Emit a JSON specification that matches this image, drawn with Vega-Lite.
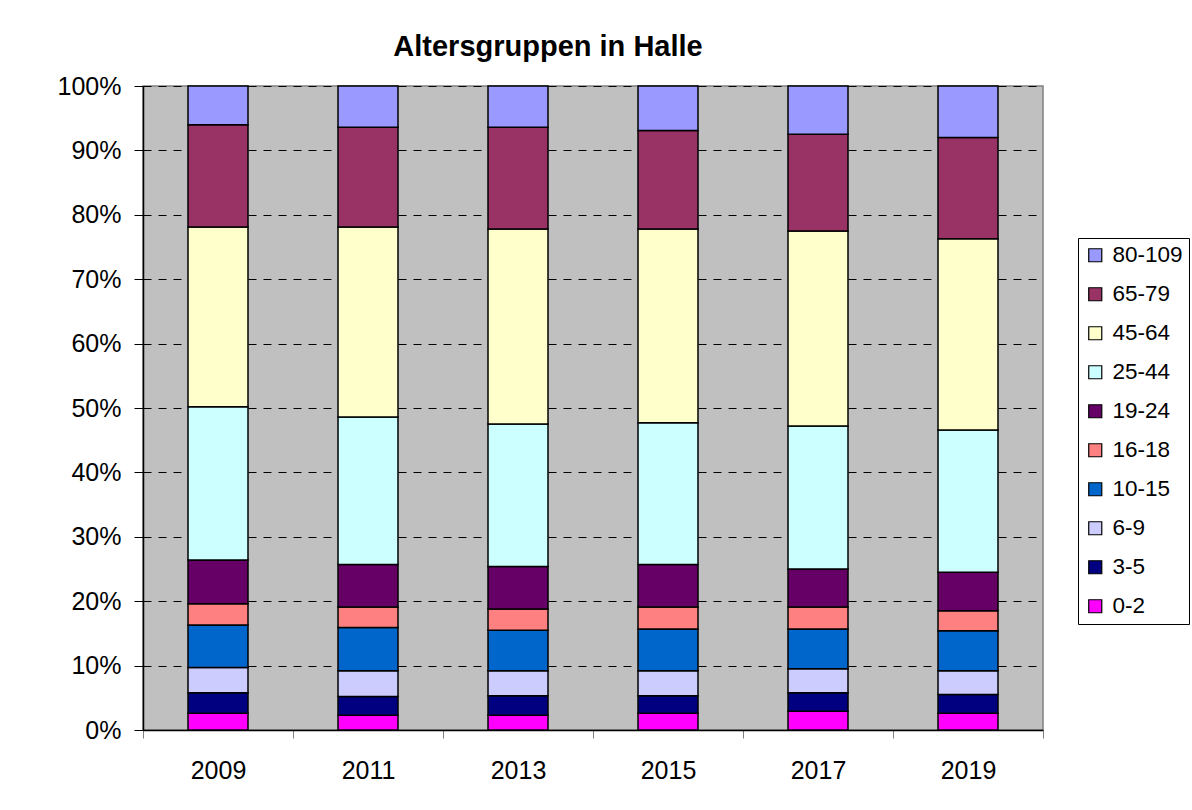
{
  "$schema": "https://vega.github.io/schema/vega-lite/v6.json",
  "width": 900,
  "height": 644,
  "autosize": {"type": "none"},
  "padding": {"left": 143, "top": 86, "right": 149, "bottom": 80},
  "background": "white",
  "title": {
    "text": "Altersgruppen in Halle",
    "font": "Liberation Sans",
    "fontSize": 29,
    "fontWeight": "bold",
    "color": "black",
    "anchor": "middle",
    "frame": "group",
    "dx": -45,
    "offset": 12
  },
  "data": {
    "values": [
      {"Jahr": "2009", "Gruppe": "0-2", "idx": 0, "Anteil": 2.6},
      {"Jahr": "2009", "Gruppe": "3-5", "idx": 1, "Anteil": 3.2},
      {"Jahr": "2009", "Gruppe": "6-9", "idx": 2, "Anteil": 3.9},
      {"Jahr": "2009", "Gruppe": "10-15", "idx": 3, "Anteil": 6.6},
      {"Jahr": "2009", "Gruppe": "16-18", "idx": 4, "Anteil": 3.3},
      {"Jahr": "2009", "Gruppe": "19-24", "idx": 5, "Anteil": 6.8},
      {"Jahr": "2009", "Gruppe": "25-44", "idx": 6, "Anteil": 23.8},
      {"Jahr": "2009", "Gruppe": "45-64", "idx": 7, "Anteil": 27.9},
      {"Jahr": "2009", "Gruppe": "65-79", "idx": 8, "Anteil": 15.9},
      {"Jahr": "2009", "Gruppe": "80-109", "idx": 9, "Anteil": 6.0},
      {"Jahr": "2011", "Gruppe": "0-2", "idx": 0, "Anteil": 2.3},
      {"Jahr": "2011", "Gruppe": "3-5", "idx": 1, "Anteil": 2.9},
      {"Jahr": "2011", "Gruppe": "6-9", "idx": 2, "Anteil": 4.0},
      {"Jahr": "2011", "Gruppe": "10-15", "idx": 3, "Anteil": 6.7},
      {"Jahr": "2011", "Gruppe": "16-18", "idx": 4, "Anteil": 3.2},
      {"Jahr": "2011", "Gruppe": "19-24", "idx": 5, "Anteil": 6.6},
      {"Jahr": "2011", "Gruppe": "25-44", "idx": 6, "Anteil": 22.9},
      {"Jahr": "2011", "Gruppe": "45-64", "idx": 7, "Anteil": 29.5},
      {"Jahr": "2011", "Gruppe": "65-79", "idx": 8, "Anteil": 15.5},
      {"Jahr": "2011", "Gruppe": "80-109", "idx": 9, "Anteil": 6.4},
      {"Jahr": "2013", "Gruppe": "0-2", "idx": 0, "Anteil": 2.3},
      {"Jahr": "2013", "Gruppe": "3-5", "idx": 1, "Anteil": 3.0},
      {"Jahr": "2013", "Gruppe": "6-9", "idx": 2, "Anteil": 3.9},
      {"Jahr": "2013", "Gruppe": "10-15", "idx": 3, "Anteil": 6.3},
      {"Jahr": "2013", "Gruppe": "16-18", "idx": 4, "Anteil": 3.3},
      {"Jahr": "2013", "Gruppe": "19-24", "idx": 5, "Anteil": 6.6},
      {"Jahr": "2013", "Gruppe": "25-44", "idx": 6, "Anteil": 22.1},
      {"Jahr": "2013", "Gruppe": "45-64", "idx": 7, "Anteil": 30.3},
      {"Jahr": "2013", "Gruppe": "65-79", "idx": 8, "Anteil": 15.8},
      {"Jahr": "2013", "Gruppe": "80-109", "idx": 9, "Anteil": 6.4},
      {"Jahr": "2015", "Gruppe": "0-2", "idx": 0, "Anteil": 2.6},
      {"Jahr": "2015", "Gruppe": "3-5", "idx": 1, "Anteil": 2.7},
      {"Jahr": "2015", "Gruppe": "6-9", "idx": 2, "Anteil": 3.9},
      {"Jahr": "2015", "Gruppe": "10-15", "idx": 3, "Anteil": 6.5},
      {"Jahr": "2015", "Gruppe": "16-18", "idx": 4, "Anteil": 3.4},
      {"Jahr": "2015", "Gruppe": "19-24", "idx": 5, "Anteil": 6.6},
      {"Jahr": "2015", "Gruppe": "25-44", "idx": 6, "Anteil": 22.0},
      {"Jahr": "2015", "Gruppe": "45-64", "idx": 7, "Anteil": 30.1},
      {"Jahr": "2015", "Gruppe": "65-79", "idx": 8, "Anteil": 15.3},
      {"Jahr": "2015", "Gruppe": "80-109", "idx": 9, "Anteil": 6.9},
      {"Jahr": "2017", "Gruppe": "0-2", "idx": 0, "Anteil": 2.9},
      {"Jahr": "2017", "Gruppe": "3-5", "idx": 1, "Anteil": 2.9},
      {"Jahr": "2017", "Gruppe": "6-9", "idx": 2, "Anteil": 3.7},
      {"Jahr": "2017", "Gruppe": "10-15", "idx": 3, "Anteil": 6.2},
      {"Jahr": "2017", "Gruppe": "16-18", "idx": 4, "Anteil": 3.4},
      {"Jahr": "2017", "Gruppe": "19-24", "idx": 5, "Anteil": 5.9},
      {"Jahr": "2017", "Gruppe": "25-44", "idx": 6, "Anteil": 22.2},
      {"Jahr": "2017", "Gruppe": "45-64", "idx": 7, "Anteil": 30.3},
      {"Jahr": "2017", "Gruppe": "65-79", "idx": 8, "Anteil": 15.0},
      {"Jahr": "2017", "Gruppe": "80-109", "idx": 9, "Anteil": 7.5},
      {"Jahr": "2019", "Gruppe": "0-2", "idx": 0, "Anteil": 2.6},
      {"Jahr": "2019", "Gruppe": "3-5", "idx": 1, "Anteil": 2.9},
      {"Jahr": "2019", "Gruppe": "6-9", "idx": 2, "Anteil": 3.7},
      {"Jahr": "2019", "Gruppe": "10-15", "idx": 3, "Anteil": 6.2},
      {"Jahr": "2019", "Gruppe": "16-18", "idx": 4, "Anteil": 3.1},
      {"Jahr": "2019", "Gruppe": "19-24", "idx": 5, "Anteil": 6.0},
      {"Jahr": "2019", "Gruppe": "25-44", "idx": 6, "Anteil": 22.1},
      {"Jahr": "2019", "Gruppe": "45-64", "idx": 7, "Anteil": 29.7},
      {"Jahr": "2019", "Gruppe": "65-79", "idx": 8, "Anteil": 15.7},
      {"Jahr": "2019", "Gruppe": "80-109", "idx": 9, "Anteil": 8.0}
    ]
  },
  "mark": {"type": "bar", "width": {"band": 0.4}, "stroke": "black", "strokeWidth": 1.5},
  "encoding": {
    "x": {
      "field": "Jahr",
      "type": "ordinal",
      "scale": {"paddingInner": 0, "paddingOuter": 0},
      "axis": {
        "title": null,
        "labelAngle": 0,
        "labelFont": "Liberation Sans",
        "labelFontSize": 25,
        "labelColor": "black",
        "labelPadding": 20,
        "tickBand": "extent",
        "tickSize": 8,
        "tickColor": "#808080",
        "domainColor": "black",
        "domainWidth": 1.5,
        "grid": false
      }
    },
    "y": {
      "field": "Anteil",
      "type": "quantitative",
      "stack": "normalize",
      "scale": {"domain": [0, 1], "nice": false},
      "axis": {
        "title": null,
        "format": ".0%",
        "values": [0, 0.1, 0.2, 0.3, 0.4, 0.5, 0.6, 0.7, 0.8, 0.9, 1],
        "labelFont": "Liberation Sans",
        "labelFontSize": 25,
        "labelColor": "black",
        "labelPadding": 13,
        "tickSize": 9,
        "tickColor": "black",
        "domainColor": "black",
        "domainWidth": 1.5,
        "grid": true,
        "gridColor": "black",
        "gridDash": [8, 7],
        "gridWidth": 1
      }
    },
    "color": {
      "field": "Gruppe",
      "type": "nominal",
      "scale": {
        "domain": ["80-109", "65-79", "45-64", "25-44", "19-24", "16-18", "10-15", "6-9", "3-5", "0-2"],
        "range": ["#9999FF", "#993366", "#FFFFCC", "#CCFFFF", "#660066", "#FF8080", "#0066CC", "#CCCCFF", "#000080", "#FF00FF"]
      },
      "legend": {
        "title": null,
        "orient": "none",
        "legendX": 935,
        "legendY": 152,
        "labelFont": "Liberation Sans",
        "labelFontSize": 22.5,
        "labelColor": "black",
        "labelOffset": 6,
        "rowPadding": 16,
        "padding": 6,
        "symbolType": "square",
        "symbolSize": 170,
        "symbolStrokeColor": "black",
        "symbolStrokeWidth": 1.2,
        "symbolOpacity": 1,
        "strokeColor": "black",
        "fillColor": "white"
      }
    },
    "order": {"field": "idx", "type": "quantitative", "sort": "ascending"}
  },
  "config": {
    "view": {"fill": "#C0C0C0", "stroke": "#808080", "strokeWidth": 1.5},
    "axis": {"gridOpacity": 1}
  }
}
